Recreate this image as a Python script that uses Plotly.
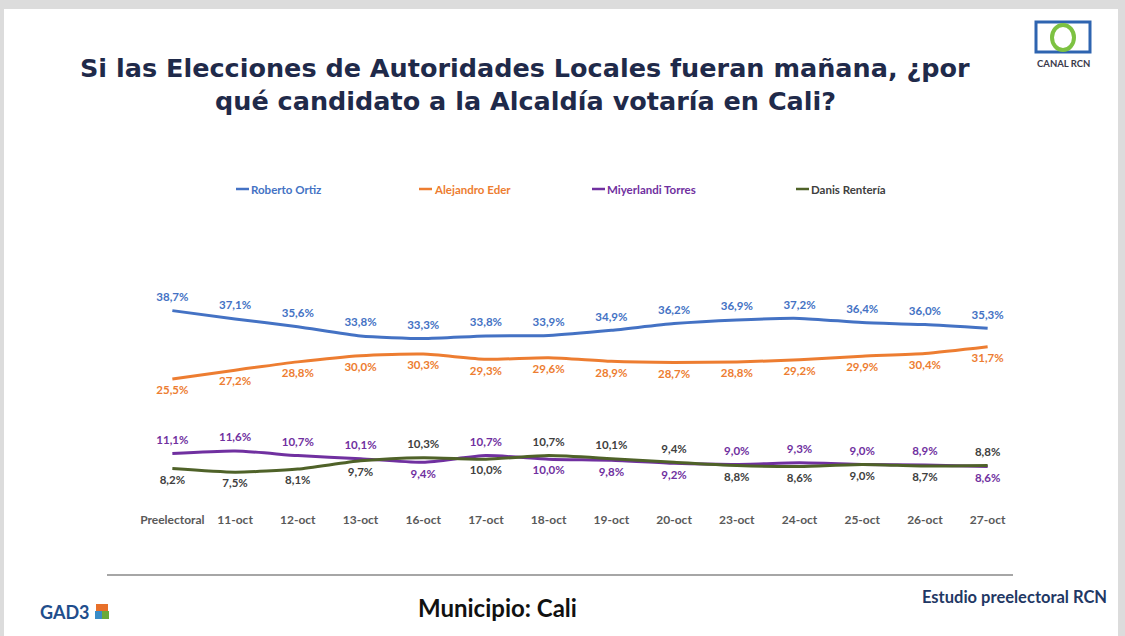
import plotly.graph_objects as go

categories = ["Preelectoral", "11-oct", "12-oct", "13-oct", "16-oct", "17-oct", "18-oct",
              "19-oct", "20-oct", "23-oct", "24-oct", "25-oct", "26-oct", "27-oct"]
ortiz = [38.7, 37.1, 35.6, 33.8, 33.3, 33.8, 33.9, 34.9, 36.2, 36.9, 37.2, 36.4, 36.0, 35.3]
eder = [25.5, 27.2, 28.8, 30.0, 30.3, 29.3, 29.6, 28.9, 28.7, 28.8, 29.2, 29.9, 30.4, 31.7]
torres = [11.1, 11.6, 10.7, 10.1, 9.4, 10.7, 10.0, 9.8, 9.2, 9.0, 9.3, 9.0, 8.9, 8.6]
renteria = [8.2, 7.5, 8.1, 9.7, 10.3, 10.0, 10.7, 10.1, 9.4, 8.8, 8.6, 9.0, 8.7, 8.8]

torres_pos = ["top center", "top center", "top center", "top center", "bottom center", "top center",
              "bottom center", "bottom center", "bottom center", "top center", "top center",
              "top center", "top center", "bottom center"]
renteria_pos = ["bottom center", "bottom center", "bottom center", "bottom center", "top center",
                "bottom center", "top center", "top center", "top center", "bottom center",
                "bottom center", "bottom center", "bottom center", "top center"]

W, H = 1125, 636
L, R, T, B = 141, 106, 278, 125
PW, PH = W - L - R, H - T - B


def px(x):
    return (x - L) / PW


def py(y):
    return (H - B - y) / PH


def fmt(v):
    return f"{v:.1f}".replace(".", ",") + "%"


series = [
    ("Roberto Ortiz", ortiz, "#4472C4", "#4472C4", "top center"),
    ("Alejandro Eder", eder, "#ED7D31", "#ED7D31", "bottom center"),
    ("Miyerlandi Torres", torres, "#7030A0", "#7030A0", torres_pos),
    ("Danis Rentería", renteria, "#4F6228", "#404040", renteria_pos),
]

fig = go.Figure()
for name, vals, col, tcol, pos in series:
    fig.add_trace(go.Scatter(
        x=categories, y=vals, name=name, mode="lines+markers+text",
        line=dict(color=col, width=3, shape="spline", smoothing=0.6),
        marker=dict(size=9, color="rgba(0,0,0,0)"),
        text=[fmt(v) for v in vals], textposition=pos,
        textfont=dict(family="Lato", size=11.5, color=tcol, weight="bold"),
        cliponaxis=False, showlegend=False, hoverinfo="skip",
    ))

shapes = []
annotations = []

# slide background
shapes.append(dict(type="rect", xref="paper", yref="paper", x0=px(4), x1=px(1118), y0=py(9), y1=py(640),
                   fillcolor="white", line=dict(width=0), layer="below"))

# legend (custom)
legend_items = [("Roberto Ortiz", "#4472C4", "#4472C4", 236),
                ("Alejandro Eder", "#ED7D31", "#ED7D31", 419),
                ("Miyerlandi Torres", "#7030A0", "#7030A0", 592),
                ("Danis Rentería", "#4F6228", "#404040", 796)]
for name, col, tcol, x0 in legend_items:
    shapes.append(dict(type="line", xref="paper", yref="paper", x0=px(x0), x1=px(x0 + 13),
                       y0=py(189), y1=py(189), line=dict(color=col, width=2.5)))
    annotations.append(dict(text=name, xref="paper", yref="paper", x=px(x0 + 13), y=py(189),
                            xanchor="left", yanchor="middle", showarrow=False,
                            font=dict(family="Lato", size=11.5, color=tcol, weight="bold")))

# bottom rule
shapes.append(dict(type="line", xref="paper", yref="paper", x0=px(107), x1=px(1013),
                   y0=py(575), y1=py(575), line=dict(color="#a6a6a6", width=2)))

# title (two lines)
for txt, yy in [("Si las Elecciones de Autoridades Locales fueran mañana, ¿por", 68),
                ("qué candidato a la Alcaldía votaría en Cali?", 101)]:
    annotations.append(dict(text=txt, xref="paper", yref="paper", x=px(525), y=py(yy),
                            xanchor="center", yanchor="middle", showarrow=False,
                            font=dict(family="DejaVu Sans", size=25.5, color="#1F2A4A", weight="bold")))

annotations.append(dict(text="Municipio: Cali", xref="paper", yref="paper", x=px(497), y=py(607),
                        xanchor="center", yanchor="middle", showarrow=False,
                        font=dict(family="Lato", size=24, color="#111111", weight="bold")))
annotations.append(dict(text="Estudio preelectoral RCN", xref="paper", yref="paper", x=px(1109), y=py(597),
                        xanchor="right", yanchor="middle", showarrow=False,
                        font=dict(family="Lato", size=16.5, color="#1F3864", weight="bold")))

# GAD3 logo
annotations.append(dict(text="GAD3", xref="paper", yref="paper", x=px(38), y=py(612),
                        xanchor="left", yanchor="middle", showarrow=False,
                        font=dict(family="Lato", size=18, color="#1F4E8C", weight="bold")))
shapes.append(dict(type="rect", xref="paper", yref="paper", x0=px(95), x1=px(102), y0=py(611), y1=py(619),
                   fillcolor="#3A8DC8", line=dict(width=0)))
shapes.append(dict(type="rect", xref="paper", yref="paper", x0=px(102), x1=px(109), y0=py(611), y1=py(619),
                   fillcolor="#6BAA3A", line=dict(width=0)))
shapes.append(dict(type="rect", xref="paper", yref="paper", x0=px(96), x1=px(108), y0=py(604), y1=py(611),
                   fillcolor="#E8702A", line=dict(width=0)))

# CANAL RCN logo
shapes.append(dict(type="rect", xref="paper", yref="paper", x0=px(1036), x1=px(1090), y0=py(22), y1=py(52),
                   fillcolor="rgba(0,0,0,0)", line=dict(color="#2E64B0", width=3)))
shapes.append(dict(type="circle", xref="paper", yref="paper", x0=px(1052), x1=px(1074), y0=py(25), y1=py(50),
                   fillcolor="rgba(0,0,0,0)", line=dict(color="#7DC242", width=4)))
annotations.append(dict(text="CANAL RCN", xref="paper", yref="paper", x=px(1063), y=py(63),
                        xanchor="center", yanchor="middle", showarrow=False,
                        font=dict(family="Lato", size=9.5, color="#3A3A4A", weight="bold")))

fig.update_layout(
    width=W, height=H,
    margin=dict(l=L, r=R, t=T, b=B),
    paper_bgcolor="#dcdcdc", plot_bgcolor="white",
    shapes=shapes, annotations=annotations,
    xaxis=dict(type="category", range=[-0.5, len(categories) - 0.5], showgrid=False, zeroline=False,
               showline=False, ticks="",
               tickfont=dict(family="Lato", size=12, color="#595959", weight="bold")),
    yaxis=dict(range=[0, 45], visible=False),
)

fig.write_html("out.html", config={"displayModeBar": False},
               post_script="document.body.style.margin='0';")
